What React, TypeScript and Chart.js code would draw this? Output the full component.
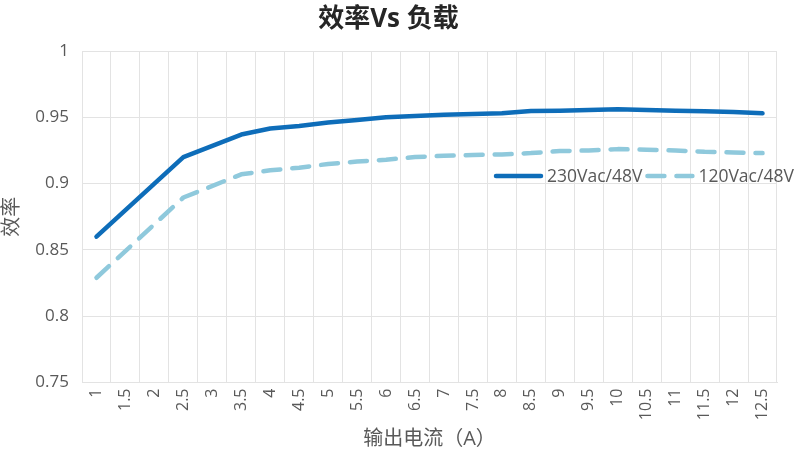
import { Chart, registerables, type Plugin } from 'chart.js';
import { useEffect, useRef } from 'react';

Chart.register(...registerables);

const currents = [
  '1', '1.5', '2', '2.5', '3', '3.5', '4', '4.5', '5', '5.5', '6', '6.5',
  '7', '7.5', '8', '8.5', '9', '9.5', '10', '10.5', '11', '11.5', '12', '12.5',
];

const eff230 = [
  0.86, null, null, 0.92, null, 0.937, 0.9415, 0.9435, 0.946, 0.948, 0.95, 0.951,
  0.952, 0.9525, 0.953, 0.9548, 0.955, 0.9555, 0.956, 0.9555, 0.955, 0.9545, 0.954, 0.953,
];

const eff120 = [
  0.829, null, null, 0.8895, null, 0.907, 0.91, 0.912, 0.9148, 0.9166, 0.918, 0.92,
  0.921, 0.9216, 0.922, 0.923, 0.9245, 0.925, 0.926, 0.9255, 0.925, 0.924, 0.9235, 0.923,
];

const FONT = "'Open Sans', 'Noto Sans CJK SC', sans-serif";
const GREY = '#595959';
const GRID = '#e3e3e3';

// legend drawn inside the plot, to the right
const insideLegend: Plugin<'line'> = {
  id: 'insideLegend',
  afterDraw(chart) {
    const { ctx, chartArea } = chart;
    const y = chartArea.top + 125;
    let x = chartArea.left + 414;
    ctx.save();
    ctx.font = `17.5px ${FONT}`;
    ctx.textBaseline = 'middle';
    chart.data.datasets.forEach((ds: any) => {
      ctx.beginPath();
      ctx.strokeStyle = ds.borderColor;
      ctx.lineWidth = ds.borderWidth;
      ctx.lineCap = 'round';
      ctx.setLineDash(ds.borderDash || []);
      ctx.moveTo(x, y);
      ctx.lineTo(x + 45, y);
      ctx.stroke();
      ctx.setLineDash([]);
      ctx.fillStyle = GREY;
      ctx.fillText(ds.label, x + 51, y + 1);
      x += 51 + ctx.measureText(ds.label).width + 5;
    });
    ctx.restore();
  },
};

export default function App() {
  const canvasRef = useRef<HTMLCanvasElement>(null);
  const chartRef = useRef<Chart | null>(null);

  useEffect(() => {
    document.body.style.margin = '0';
    if (!canvasRef.current) return;

    chartRef.current = new Chart(canvasRef.current, {
      type: 'line',
      data: {
        labels: currents,
        datasets: [
          {
            label: '230Vac/48V',
            data: eff230,
            borderColor: '#0E6DB9',
            backgroundColor: '#0E6DB9',
            borderWidth: 4.5,
            borderCapStyle: 'round',
            borderJoinStyle: 'round',
            pointRadius: 0,
            spanGaps: true,
            tension: 0,
          },
          {
            label: '120Vac/48V',
            data: eff120,
            borderColor: '#8FC9DC',
            backgroundColor: '#8FC9DC',
            borderWidth: 4.5,
            borderDash: [17, 12],
            borderCapStyle: 'round',
            borderJoinStyle: 'round',
            pointRadius: 0,
            spanGaps: true,
            tension: 0,
          },
        ],
      },
      options: {
        responsive: false,
        animation: false,
        layout: { padding: { left: 0, right: 23, top: 0, bottom: 0 } },
        plugins: {
          legend: { display: false },
          tooltip: { enabled: false },
          title: {
            display: true,
            text: '效率Vs 负载',
            color: '#262626',
            font: { family: FONT, size: 26, weight: 'bold', lineHeight: 1.2 },
            padding: { top: 4, bottom: 15.8 },
          },
        },
        scales: {
          x: {
            offset: true,
            grid: { color: GRID, offset: true, drawTicks: false },
            border: { color: GRID },
            ticks: {
              color: GREY,
              font: { family: FONT, size: 16 },
              minRotation: 90,
              maxRotation: 90,
              autoSkip: false,
              padding: 6,
            },
            title: {
              display: true,
              text: '输出电流（A）',
              color: GREY,
              font: { family: FONT, size: 20 },
              padding: { top: 0, bottom: 2 },
            },
            afterFit: (scale) => {
              scale.height = 70.5;
            },
          },
          y: {
            min: 0.75,
            max: 1,
            grid: { color: GRID, drawTicks: false },
            border: { color: GRID },
            ticks: {
              stepSize: 0.05,
              color: GREY,
              font: { family: FONT, size: 17 },
              padding: 13,
              callback: (v) => String(Number(Number(v).toFixed(2))),
            },
            title: {
              display: true,
              text: '效率',
              color: GREY,
              font: { family: FONT, size: 20 },
              padding: { top: 0, bottom: 0 },
            },
            afterFit: (scale) => {
              scale.width = 82;
            },
          },
        },
      },
      plugins: [insideLegend],
    });

    return () => {
      chartRef.current?.destroy();
    };
  }, []);

  return (
    <div style={{ width: 800, height: 453, background: '#fff' }}>
      <canvas ref={canvasRef} width={800} height={453} />
    </div>
  );
}
